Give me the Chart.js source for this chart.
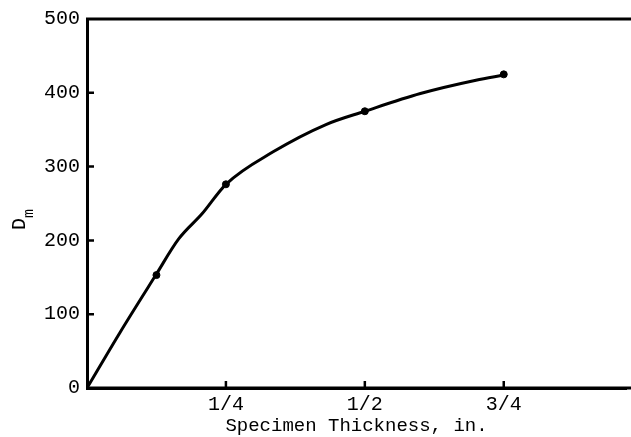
<!DOCTYPE html>
<html>
<head>
<meta charset="utf-8">
<script src="https://cdn.jsdelivr.net/npm/chart.js@4"></script>
<style>
  html, body { margin: 0; padding: 0; background: #fff; }
  #wrap { width: 631px; height: 437px; position: relative; }
</style>
</head>
<body>
<div id="wrap"><canvas id="dmChart"></canvas></div>
<script>
// curve (thickness in inches, Dm)
let curveX = [0, 0.06, 0.123, 0.165, 0.207, 0.25, 0.335, 0.43, 0.5, 0.6, 0.7, 0.75]
let curveY = [0, 76, 152, 202, 236, 276, 320, 357, 375, 399, 417, 424]

// plotted points
let pointX = [0.125, 0.25, 0.5, 0.75]
let pointY = [153, 276, 375, 425]

let xTickValues = [0.25, 0.5, 0.75]
let xTickLabels = ["1/4", "1/2", "3/4"]
let yTickValues = [0, 100, 200, 300, 400, 500]

let typeFont = "'Liberation Mono', 'DejaVu Sans Mono', monospace"

// frame + inside tick marks + "Dm" label
const framePlugin = {
    id: "frame",
    afterDraw(chart) {
        const ctx = chart.ctx
        const area = chart.chartArea
        const xs = chart.scales.x
        const ys = chart.scales.y
        ctx.save()
        ctx.strokeStyle = "#000"
        ctx.lineWidth = 3
        ctx.beginPath()
        ctx.moveTo(area.left - 1, area.top)
        ctx.lineTo(chart.width, area.top)
        ctx.moveTo(area.left, area.bottom)
        ctx.lineTo(chart.width, area.bottom)
        ctx.stroke()

        ctx.lineWidth = 2.5
        ctx.beginPath()
        xTickValues.forEach(v => {
            let px = xs.getPixelForValue(v)
            ctx.moveTo(px, area.bottom)
            ctx.lineTo(px, area.bottom - 7)
        })
        yTickValues.slice(1, -1).forEach(v => {
            let py = ys.getPixelForValue(v)
            ctx.moveTo(area.left, py)
            ctx.lineTo(area.left + 7, py)
        })
        ctx.stroke()

        // y title, rotated
        ctx.translate(25, 230)
        ctx.rotate(-Math.PI / 2)
        ctx.fillStyle = "#000"
        ctx.textBaseline = "alphabetic"
        ctx.font = "20px " + typeFont
        ctx.fillText("D", 0, 0)
        ctx.font = "15px " + typeFont
        ctx.fillText("m", 12, 8)
        ctx.restore()
    }
}

new Chart(document.getElementById("dmChart"), {
    type: "scatter",
    data: {
        datasets: [
            {
                data: curveX.map((x, i) => ({ x: x, y: curveY[i] })),
                showLine: true,
                borderColor: "#000",
                borderWidth: 3,
                pointRadius: 0,
                cubicInterpolationMode: "monotone",
            },
            {
                data: pointX.map((x, i) => ({ x: x, y: pointY[i] })),
                backgroundColor: "#000",
                borderColor: "#000",
                pointRadius: 3.5,
            },
        ],
    },
    options: {
        responsive: true,
        maintainAspectRatio: false,
        animation: false,
        layout: { padding: { top: 17, right: 0, left: 0, bottom: 0 } },
        plugins: {
            legend: { display: false },
            tooltip: { enabled: false },
        },
        scales: {
            x: {
                type: "linear",
                min: 0,
                max: 0.97,
                afterBuildTicks: (scale) => {
                    scale.ticks = xTickValues.map(v => ({ value: v }))
                },
                afterFit: (scale) => { scale.height = 49 },
                grid: { display: false, drawTicks: false },
                border: { color: "#000", width: 3 },
                ticks: {
                    color: "#000",
                    padding: 5,
                    maxRotation: 0,
                    font: { family: typeFont, size: 20 },
                    callback: (v) => {
                        let i = xTickValues.indexOf(v)
                        return i >= 0 ? xTickLabels[i] : ""
                    },
                },
                title: {
                    display: true,
                    text: "Specimen Thickness, in.",
                    color: "#000",
                    font: { family: typeFont, size: 19 },
                    padding: { top: 0, bottom: 0 },
                },
            },
            y: {
                min: 0,
                max: 500,
                afterBuildTicks: (scale) => {
                    scale.ticks = yTickValues.map(v => ({ value: v }))
                },
                afterFit: (scale) => { scale.width = 87 },
                grid: { display: false, drawTicks: false },
                border: { color: "#000", width: 3 },
                ticks: {
                    color: "#000",
                    padding: 7,
                    font: { family: typeFont, size: 20 },
                },
            },
        },
    },
    plugins: [framePlugin],
})
</script>
</body>
</html>
